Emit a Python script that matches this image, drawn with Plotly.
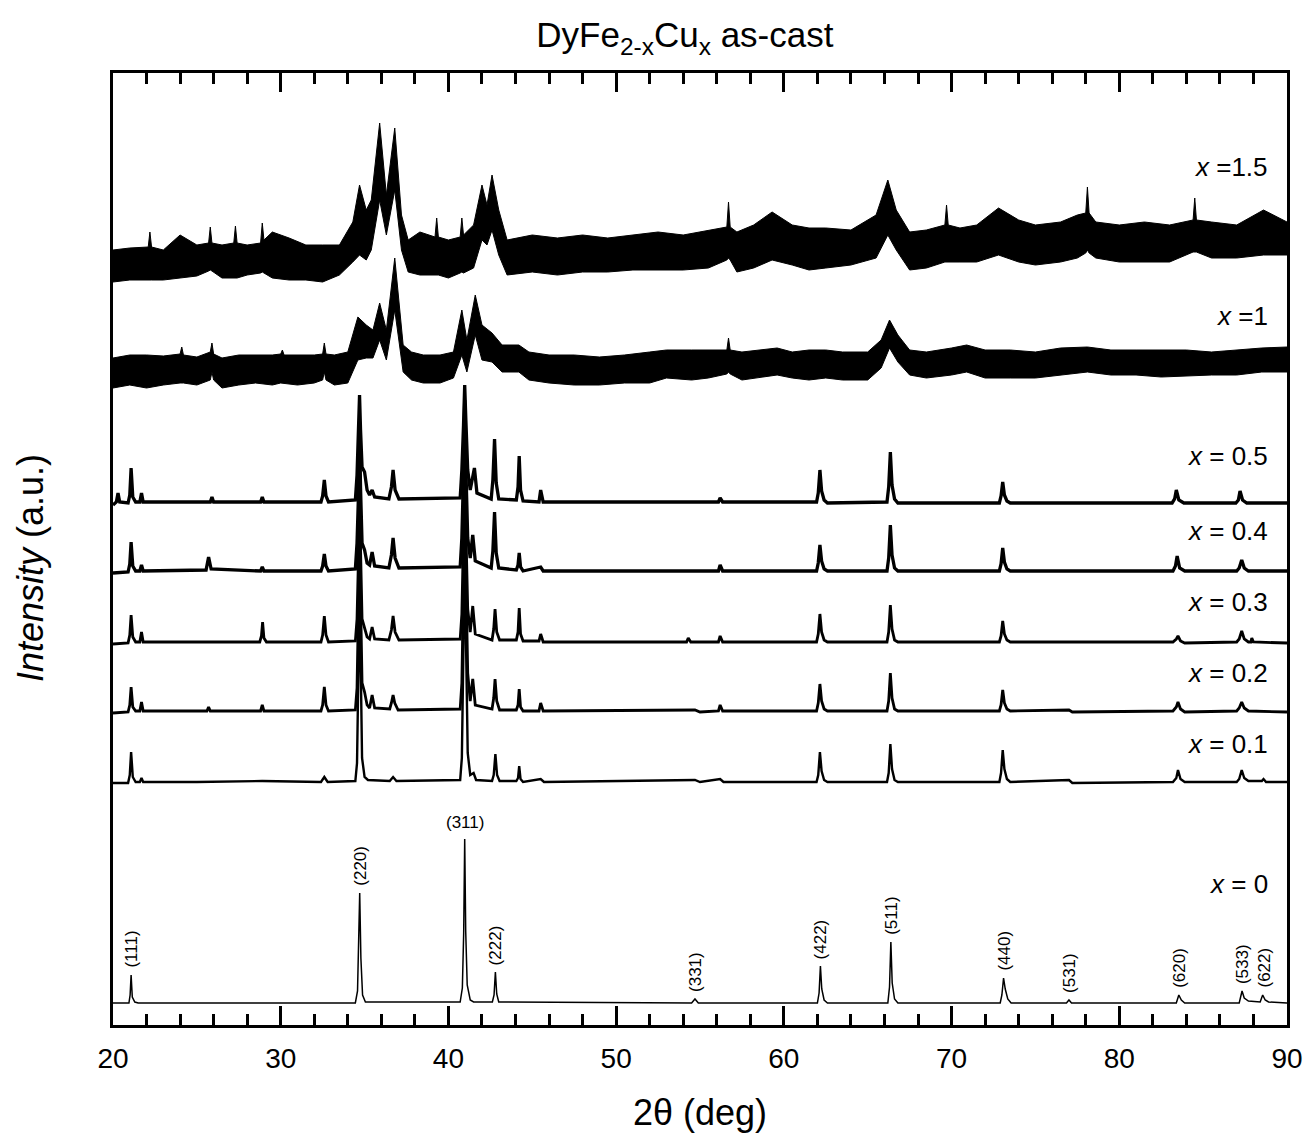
import plotly.graph_objects as go

# ---------------- data ----------------
# intensity above each pattern's own baseline (a.u.), vs 2theta (deg)
x0_pattern = [(20.0,0),(20.95,0),(21.02,8),(21.08,28),(21.15,6),(21.3,1),(21.5,0),
    (34.45,0),(34.58,12),(34.65,55),(34.71,110),(34.78,45),(34.88,8),(35.05,1),
    (40.7,1),(40.83,15),(40.91,70),(40.97,164),(41.03,72),(41.12,18),(41.3,3),(41.5,1),
    (42.62,1),(42.72,8),(42.8,31),(42.88,9),(43.0,1),
    (54.5,0),(54.7,4),(54.9,0),
    (62.0,0),(62.1,10),(62.18,37),(62.26,14),(62.4,3),(62.6,0),
    (66.2,0),(66.3,16),(66.38,61),(66.46,20),(66.6,4),(66.8,0),
    (72.9,0),(73.0,8),(73.1,25),(73.2,14),(73.35,4),(73.55,0),
    (76.85,0),(77.0,3),(77.15,0),
    (83.4,0),(83.55,8),(83.7,3),(83.9,0),
    (87.15,0),(87.32,12),(87.45,5),(87.7,2),(88.4,1),(88.55,8),(88.7,3),(88.9,1),(90.0,0)]

x01_pattern = [(20.0,0),(20.9,0),(21.0,8),(21.08,31),(21.18,6),(21.35,1),(21.6,1),(21.7,5),(21.8,1),
    (25.0,1),(28.9,2),(32.4,1),(32.6,6),(32.8,1),
    (34.45,2),(34.55,20),(34.64,120),(34.7,313),(34.76,130),(34.85,25),(35.0,6),(35.2,3),
    (36.5,2),(36.7,6),(36.9,2),
    (40.7,3),(40.8,25),(40.9,140),(40.97,353),(41.04,150),(41.15,30),(41.3,8),(41.5,10),(41.65,3),
    (42.6,2),(42.7,8),(42.8,29),(42.9,8),(43.05,2),
    (44.05,2),(44.15,5),(44.22,17),(44.3,4),(44.45,1),(45.5,4),(45.7,1),
    (54.7,3),(55.0,1),(56.2,4),(56.4,1),
    (61.95,1),(62.05,8),(62.15,31),(62.25,12),(62.4,3),(62.6,1),
    (66.15,1),(66.25,10),(66.35,39),(66.45,14),(66.6,3),(66.8,1),
    (72.85,1),(72.95,10),(73.05,33),(73.15,14),(73.3,4),(73.5,1),
    (77.0,3),(77.2,0),(83.2,1),(83.4,5),(83.5,13),(83.65,4),(83.9,1),
    (87.0,1),(87.15,4),(87.3,13),(87.45,5),(87.7,2),(88.5,2),(88.6,4),(88.75,1),(90.0,1)]

x02_pattern = [(20.0,0),(20.9,1),(21.0,8),(21.08,26),(21.18,6),(21.35,2),(21.6,2),(21.7,11),(21.8,2),
    (25.6,2),(25.7,6),(25.8,2),(28.8,2),(28.9,8),(29.0,2),
    (32.4,2),(32.5,8),(32.6,26),(32.7,8),(32.85,2),
    (34.45,3),(34.55,25),(34.64,110),(34.7,263),(34.76,115),(34.85,30),(35.0,21),(35.15,8),(35.3,5),(35.45,18),(35.6,5),
    (36.5,4),(36.6,10),(36.7,18),(36.8,10),(37.0,3),
    (40.7,4),(40.8,30),(40.9,130),(40.97,293),(41.04,140),(41.15,40),(41.3,12),(41.45,34),(41.6,8),
    (42.6,4),(42.7,15),(42.78,34),(42.88,12),(43.05,3),
    (44.05,3),(44.15,8),(44.22,24),(44.3,6),(44.45,2),(45.4,2),(45.5,10),(45.65,2),
    (54.7,3),(55.0,1),(56.1,2),(56.2,8),(56.35,2),
    (61.95,2),(62.05,10),(62.15,29),(62.25,12),(62.4,4),(62.6,2),
    (66.15,2),(66.25,12),(66.35,40),(66.45,15),(66.6,4),(66.8,2),
    (72.85,2),(72.95,8),(73.05,23),(73.15,10),(73.3,4),(73.5,2),
    (77.0,3),(77.2,1),(83.2,2),(83.4,6),(83.5,11),(83.65,4),(83.9,1),
    (87.0,2),(87.15,5),(87.3,11),(87.45,5),(87.7,2),(90.0,1)]

x03_pattern = [(20.0,0),(20.9,1),(21.0,9),(21.08,29),(21.18,7),(21.35,2),(21.6,2),(21.7,12),(21.8,2),
    (28.75,2),(28.85,8),(28.92,22),(29.0,6),(29.15,2),
    (32.4,2),(32.5,9),(32.6,28),(32.7,9),(32.85,2),
    (34.45,3),(34.55,25),(34.64,90),(34.7,203),(34.76,95),(34.85,25),(35.0,17),(35.15,7),(35.3,5),(35.45,17),(35.6,5),
    (36.45,4),(36.6,14),(36.7,28),(36.82,12),(37.05,4),
    (40.7,5),(40.8,30),(40.9,110),(40.97,233),(41.04,115),(41.15,35),(41.3,12),(41.45,38),(41.6,10),
    (42.6,4),(42.7,15),(42.78,35),(42.88,12),(43.05,4),
    (44.05,4),(44.15,12),(44.22,36),(44.3,10),(44.45,3),(45.4,3),(45.5,10),(45.65,2),
    (54.2,2),(54.3,6),(54.45,2),(56.1,2),(56.2,8),(56.35,2),
    (61.95,2),(62.05,10),(62.15,30),(62.25,12),(62.4,4),(62.6,2),
    (66.15,2),(66.25,12),(66.35,39),(66.45,15),(66.6,4),(66.8,2),
    (72.85,2),(72.95,8),(73.05,23),(73.15,10),(73.3,4),(73.5,2),
    (83.2,2),(83.4,5),(83.5,8),(83.65,3),(83.9,1),
    (87.0,2),(87.15,5),(87.3,13),(87.45,5),(87.7,2),(87.85,2),(87.9,6),(88.0,2),(90.0,1)]

x04_pattern = [(20.0,0),(20.9,1),(21.0,9),(21.08,31),(21.18,7),(21.35,2),(21.6,2),(21.7,8),(21.8,2),
    (25.55,3),(25.7,16),(25.85,4),(28.8,2),(28.9,6),(29.0,2),
    (32.4,2),(32.5,7),(32.6,19),(32.7,7),(32.85,2),
    (34.45,4),(34.55,30),(34.64,80),(34.7,143),(34.76,85),(34.85,30),(35.0,23),(35.15,10),(35.3,8),(35.45,21),(35.6,7),
    (36.45,5),(36.6,18),(36.7,35),(36.82,15),(37.05,5),
    (40.7,6),(40.8,35),(40.9,100),(40.97,173),(41.04,105),(41.15,35),(41.3,15),(41.45,38),(41.6,12),
    (42.55,5),(42.65,22),(42.75,61),(42.85,20),(43.0,5),
    (44.05,3),(44.15,8),(44.22,20),(44.3,6),(44.45,2),(45.5,6),(45.65,2),
    (56.1,2),(56.2,8),(56.35,2),
    (61.95,2),(62.05,10),(62.15,28),(62.25,12),(62.4,4),(62.6,2),
    (66.15,2),(66.25,15),(66.35,48),(66.45,18),(66.6,5),(66.8,2),
    (72.85,2),(72.95,9),(73.05,25),(73.15,11),(73.3,4),(73.5,2),
    (83.2,2),(83.35,7),(83.45,17),(83.6,5),(83.9,2),
    (87.0,2),(87.15,5),(87.3,13),(87.45,5),(87.7,2),(90.0,2)]

x05_pattern = [(20.0,0),(20.2,3),(20.3,12),(20.4,3),(20.9,2),(21.0,10),(21.08,37),(21.18,8),(21.35,3),(21.6,3),(21.7,12),(21.8,3),
    (25.8,3),(25.9,8),(26.0,3),(28.8,3),(28.9,8),(29.0,3),
    (32.4,3),(32.5,9),(32.6,25),(32.7,9),(32.85,3),
    (34.45,5),(34.55,30),(34.64,70),(34.7,110),(34.76,75),(34.85,38),(35.0,33),(35.15,15),(35.3,10),(35.45,15),(35.6,8),
    (36.45,6),(36.6,18),(36.7,35),(36.82,15),(37.05,6),
    (40.7,7),(40.8,35),(40.9,80),(40.97,120),(41.04,85),(41.15,35),(41.3,15),(41.55,37),(41.7,12),
    (42.55,6),(42.65,25),(42.75,66),(42.85,22),(43.0,6),
    (44.05,5),(44.15,18),(44.22,49),(44.3,15),(44.45,4),(45.4,3),(45.5,15),(45.65,3),
    (56.1,3),(56.2,7),(56.35,3),
    (61.95,3),(62.05,12),(62.15,35),(62.25,14),(62.4,5),(62.6,2),
    (66.15,3),(66.25,18),(66.35,53),(66.45,20),(66.6,6),(66.8,2),
    (72.85,2),(72.95,9),(73.05,23),(73.15,10),(73.3,4),(73.5,2),
    (83.15,2),(83.3,6),(83.4,15),(83.55,5),(83.85,2),
    (86.95,2),(87.1,5),(87.2,14),(87.35,5),(87.6,2),(90.0,2)]

# noisy patterns: upper / lower envelope of the noise band (a.u. about baseline)
x10_nodes = [20.0,21.0,22.0,23.0,24.0,24.1,24.2,25.0,25.8,25.9,26.0,26.5,27.5,28.5,29.5,30.0,30.1,30.2,31.0,32.0,32.5,32.6,32.7,
    33.2,34.0,34.6,35.1,35.5,35.9,36.3,36.8,37.3,37.8,38.5,39.5,40.3,40.8,41.1,41.6,42.0,42.6,43.2,44.2,44.8,46.0,47.5,49.0,
    50.5,52.0,53.0,54.5,55.5,56.6,56.7,56.8,57.5,58.5,59.6,60.5,61.5,62.5,63.5,65.0,65.8,66.3,66.8,67.5,68.5,70.0,70.9,72.0,
    73.5,75.0,76.5,78.1,79.5,81.0,82.5,84.0,85.5,87.0,88.5,90.0]
x10_upper = [14,17,17,16,18,25,17,15,20,29,18,14,17,17,17,18,22,17,17,17,18,29,18,
    17,20,55,47,42,69,42,114,27,20,17,17,20,62,32,77,47,39,27,27,20,17,17,15,
    17,20,22,22,22,22,34,22,20,22,24,20,22,22,20,20,32,52,37,22,20,24,27,22,
    22,20,24,25,22,22,22,22,20,22,24,25]
x10_lower = [-16,-13,-16,-13,-11,-11,-11,-13,-8,0,-8,-16,-13,-11,-13,-11,-11,-11,-13,-11,-8,0,-8,
    -13,-11,12,14,14,32,12,62,0,-8,-11,-11,-6,17,0,37,12,10,0,0,-8,-11,-13,-13,
    -11,-11,-6,-8,-6,-2,0,-2,-8,-6,-3,-6,-8,-6,-8,-8,4,24,10,-3,-6,-3,0,-6,
    -6,-6,-3,0,-3,-3,-5,-4,-3,-3,0,0]

x15_nodes = [20.0,21.0,22.1,22.2,22.3,23.0,24.0,25.0,25.7,25.8,25.9,26.5,27.2,27.3,27.4,28.0,28.8,28.9,29.0,29.5,30.5,31.5,32.5,
    33.5,34.3,34.7,35.1,35.4,35.9,36.3,36.8,37.2,37.6,38.3,39.2,39.3,39.4,40.0,40.7,40.8,40.9,41.5,42.0,42.3,42.6,43.0,43.5,
    45.0,46.5,48.0,49.5,51.0,52.5,54.0,55.5,56.6,56.7,56.8,57.2,58.2,59.3,60.5,61.5,62.5,64.0,65.5,66.2,66.7,67.5,68.5,69.6,
    69.7,69.8,70.5,71.5,72.8,74.0,75.0,76.5,77.5,78.0,78.1,78.2,78.6,80.0,81.5,83.0,84.4,84.5,84.6,85.5,87.0,88.6,90.0]
x15_upper = [15,17,18,33,18,15,30,20,22,38,22,20,22,39,22,20,22,42,25,33,27,20,20,
    20,43,80,55,65,142,70,137,50,25,33,28,47,28,25,28,47,30,40,80,60,90,55,25,
    30,27,30,27,30,33,30,35,38,63,38,33,40,53,40,37,37,35,50,85,55,33,35,40,
    60,40,37,40,57,45,40,43,50,52,78,52,43,40,43,40,45,67,45,43,40,55,43]
x15_lower = [-17,-15,-15,-15,-15,-15,-13,-11,-6,-5,-6,-13,-13,-13,-13,-10,-8,-7,-8,-13,-15,-15,-17,
    -10,3,10,5,15,65,30,75,15,-7,-10,-10,-10,-10,-13,-8,-7,-8,-3,25,20,35,10,-10,
    -7,-10,-7,-7,-5,-5,-5,-3,5,7,5,-7,-3,5,0,-5,-3,0,7,30,15,-5,-3,3,
    3,3,3,3,10,3,0,3,7,12,15,12,7,3,3,3,13,13,13,7,7,10,10]

sample_labels = ["<i>x</i> = 0", "<i>x</i> = 0.1", "<i>x</i> = 0.2", "<i>x</i> = 0.3",
                 "<i>x</i> = 0.4", "<i>x</i> = 0.5", "<i>x</i> =1", "<i>x</i> =1.5"]
pattern_offsets = [22, 242, 312, 381, 452, 520, 653, 760]
label_y = [141, 281, 352, 423, 494, 569, 709, 858]

hkl_labels = ["(111)", "(220)", "(311)", "(222)", "(331)", "(422)", "(511)",
              "(440)", "(531)", "(620)", "(533)", "(622)"]
hkl_positions = [21.08, 34.71, 40.97, 42.8, 54.7, 62.18, 66.38, 73.1, 77.0, 83.55, 87.32, 88.6]

x_ticks = [20, 30, 40, 50, 60, 70, 80, 90]

# ---------------- figure ----------------
FONT = "Liberation Sans, Arial, sans-serif"
fig = go.Figure()

clean = [x0_pattern, x01_pattern, x02_pattern, x03_pattern, x04_pattern, x05_pattern]
widths = [1.5, 2.4, 2.8, 2.8, 3.3, 3.3]
for pat, off, w in zip(clean, pattern_offsets[:6], widths):
    fig.add_trace(go.Scatter(x=[p[0] for p in pat], y=[p[1] + off for p in pat],
                             mode="lines", line=dict(color="black", width=w),
                             showlegend=False, hoverinfo="skip"))

for nodes, up, lo, off in [(x10_nodes, x10_upper, x10_lower, pattern_offsets[6]),
                           (x15_nodes, x15_upper, x15_lower, pattern_offsets[7])]:
    xs = list(nodes) + list(nodes[::-1])
    ys = [v + off for v in up] + [v + off for v in lo[::-1]]
    fig.add_trace(go.Scatter(x=xs, y=ys, mode="lines", fill="toself",
                             fillcolor="black", line=dict(color="black", width=1),
                             showlegend=False, hoverinfo="skip"))

ann = []
for txt, yy in zip(sample_labels, label_y):
    ann.append(dict(x=89.0, y=yy, xref="x", yref="y", text=txt, showarrow=False,
                    xanchor="right", yanchor="middle",
                    font=dict(family=FONT, size=26, color="black")))

for txt, pos in zip(hkl_labels, hkl_positions):
    top = max(p[1] for p in x0_pattern if abs(p[0] - pos) <= 0.15) + pattern_offsets[0]
    horiz = txt == "(311)"
    ann.append(dict(x=pos, y=top + 5, xref="x", yref="y", text=txt, showarrow=False,
                    xanchor="center", yanchor="bottom", textangle=0 if horiz else -90,
                    font=dict(family=FONT, size=17, color="black")))

ann.append(dict(x=0.5, y=-0.0914, xref="paper", yref="paper", text="2θ (deg)",
                showarrow=False, xanchor="center", yanchor="middle",
                font=dict(family=FONT, size=36, color="black")))
ann.append(dict(x=-0.0707, y=0.48, xref="paper", yref="paper",
                text="<i>Intensity</i> (a.u.)", textangle=-90, showarrow=False,
                xanchor="center", yanchor="middle",
                font=dict(family=FONT, size=36, color="black")))

fig.update_layout(
    width=1307, height=1140,
    margin=dict(l=113, r=20, t=73, b=115, autoexpand=False),
    paper_bgcolor="white", plot_bgcolor="white",
    title=dict(text="DyFe<sub>2-x</sub>Cu<sub>x</sub> as-cast", x=0.524, xref="container",
               y=1 - 35 / 1140, yref="container", xanchor="center", yanchor="middle",
               font=dict(family=FONT, size=35, color="black")),
    annotations=ann,
    showlegend=False,
)
fig.update_xaxes(range=[20, 90], tickvals=x_ticks, ticks="inside", ticklen=19, tickwidth=2.5,
                 tickcolor="black", showline=True, linewidth=3, linecolor="black", mirror="allticks",
                 showgrid=False, zeroline=False, ticklabelstandoff=6, automargin=False,
                 tickfont=dict(family=FONT, size=28, color="black"),
                 minor=dict(dtick=2, tick0=20, ticks="inside", ticklen=11, tickwidth=2.5,
                            tickcolor="black", showgrid=False))
fig.update_yaxes(range=[0, 952], showticklabels=False, ticks="", showline=True, linewidth=3,
                 linecolor="black", mirror=True, showgrid=False, zeroline=False, automargin=False)

fig.write_html("out.html")
